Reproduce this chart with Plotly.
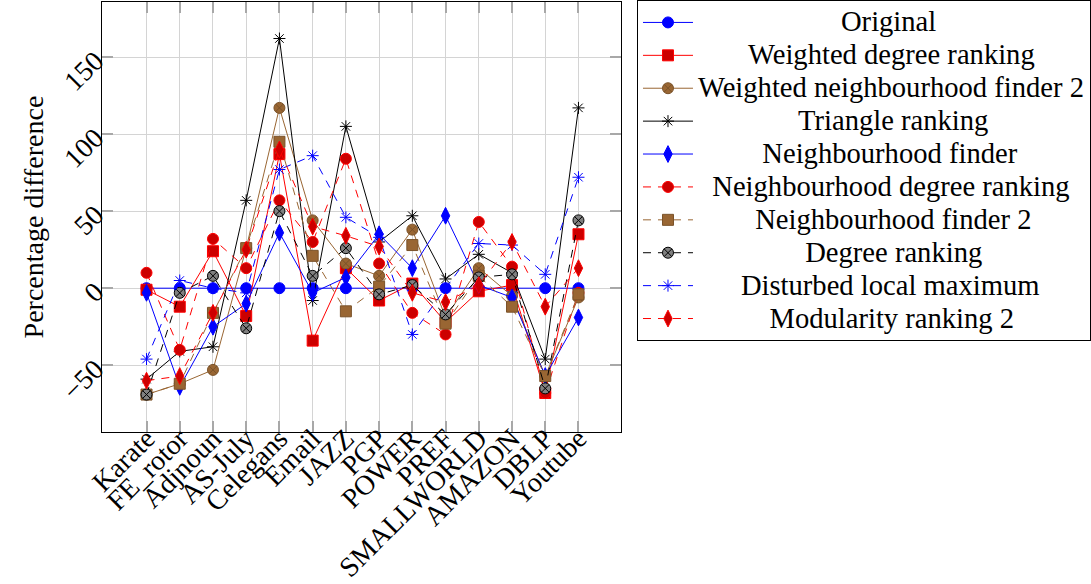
import plotly.graph_objects as go

categories = ["Karate", "FE_rotor", "Adjnoun", "AS-July", "Celegans", "Email", "JAZZ",
              "PGP", "POWER", "PREF", "SMALLWORLD", "AMAZON", "DBLP", "Youtube"]

original = [0, 0, 0, 0, 0, 0, 0, 0, 0, 0, 0, 0, 0, 0]
weighted_degree_ranking = [-1, -12, 24, -18, 87, -34, 13, -8, 3, -22, -2, 2, -68, 35]
weighted_neighbourhood_finder_2 = [-69, -62, -53, 26, 117, 44, 16, 8, 38, -19, 13, -5, -57, -6]
triangle_ranking = [-59, -41, -38, 57, 162, -8, 105, 30, 47, 6, 22, 10, -46, 117]
neighbourhood_finder = [-3, -64, -25, -10, 36, -3, 7, 35, 13, 47, 2, -6, -57, -19]
neighbourhood_degree_ranking = [10, -40, 32, 13, 57, 30, 84, 16, -16, -30, 43, 14, -68, -3]
neighbourhood_finder_2 = [-69, -62, -16, 26, 95, 21, -15, 1, 28, -23, 8, -12, -57, -4]
degree_ranking = [-69, -3, 8, -26, 50, 8, 26, -4, 2, -17, 7, 9, -65, 44]
disturbed_local_maximum = [-46, 5, 0, -3, 77, 86, 46, 33, -30, 0, 29, 28, 9, 72]
modularity_ranking_2 = [-60, -57, -16, 25, 90, 40, 34, 27, -3, -9, 2, 30, -12, 13]

y_ticks = [-50, 0, 50, 100, 150]

BLUE = "#0000ff"
RED = "#ff0000"
DRED = "#cc0000"
BROWN = "#996633"
DBROWN = "#7a5229"
GRAY = "#808080"
BLACK = "#000000"
FONT = "Liberation Serif"
DASH = "8px,7px"

series = [
    ("Original", original, dict(symbol="circle", size=11, color=BLUE, line=dict(color=BLUE, width=1)), dict(color=BLUE, width=1)),
    ("Weighted degree ranking", weighted_degree_ranking, dict(symbol="square", size=11, color=DRED, line=dict(color=RED, width=1)), dict(color=RED, width=1)),
    ("Weighted neighbourhood finder 2", weighted_neighbourhood_finder_2, dict(symbol="circle-x", size=11, color=BROWN, line=dict(color=DBROWN, width=1)), dict(color=BROWN, width=1)),
    ("Triangle ranking", triangle_ranking, dict(symbol="asterisk-open", size=10, color=BLACK, line=dict(color=BLACK, width=1)), dict(color=BLACK, width=1)),
    ("Neighbourhood finder", neighbourhood_finder, dict(symbol="diamond-tall", size=12, color=BLUE, line=dict(color=BLUE, width=1)), dict(color=BLUE, width=1)),
    ("Neighbourhood degree ranking", neighbourhood_degree_ranking, dict(symbol="circle", size=11, color=DRED, line=dict(color=RED, width=1)), dict(color=RED, width=1, dash=DASH)),
    ("Neighbourhood finder 2", neighbourhood_finder_2, dict(symbol="square", size=11, color=BROWN, line=dict(color=DBROWN, width=1)), dict(color=BROWN, width=1, dash=DASH)),
    ("Degree ranking", degree_ranking, dict(symbol="circle-x", size=11, color=GRAY, line=dict(color=BLACK, width=1)), dict(color=BLACK, width=1, dash=DASH)),
    ("Disturbed local maximum", disturbed_local_maximum, dict(symbol="asterisk-open", size=10, color=BLUE, line=dict(color=BLUE, width=1)), dict(color=BLUE, width=1, dash=DASH)),
    ("Modularity ranking 2", modularity_ranking_2, dict(symbol="diamond-tall", size=12, color=DRED, line=dict(color=RED, width=1)), dict(color=RED, width=1, dash=DASH)),
]

# approximate Times-like glyph widths (per 1000 em) to centre legend labels
W = {"a": 444, "b": 500, "c": 444, "d": 500, "e": 444, "f": 333, "g": 500, "h": 500, "i": 278,
     "k": 500, "l": 278, "m": 778, "n": 500, "o": 500, "r": 333, "s": 389, "t": 278, "u": 500,
     "x": 500, "y": 500, " ": 250, "2": 500, "O": 722, "W": 944, "T": 611, "N": 722, "D": 722, "M": 889}


def width(s):
    return sum(W.get(ch, 500) for ch in s)


maxw = max(width(s[0]) for s in series)
NB = "\u00a0"


def centred(name):
    pad = int(round((maxw - width(name)) / 2 / 250))
    return '<span style="font-size:28.6px">' + NB * pad + name + "</span>"


fig = go.Figure()
for name, vals, mk, ln in series:
    fig.add_trace(go.Scatter(x=categories, y=vals, mode="lines+markers", name=centred(name),
                             marker=mk, line=ln))

axis_common = dict(showline=True, linecolor=BLACK, linewidth=1, mirror="ticks",
                   showgrid=True, gridcolor="#d4d4d4", gridwidth=1,
                   ticks="inside", ticklen=11, tickwidth=2, tickcolor="#a8a8a8",
                   zeroline=False, tickfont=dict(family=FONT, size=28, color=BLACK))

fig.update_layout(
    width=1091, height=584,
    margin=dict(l=102, r=470, t=2, b=152, autoexpand=False),
    paper_bgcolor="white", plot_bgcolor="white",
    font=dict(family=FONT, size=28, color=BLACK),
    xaxis=dict(range=[-1.34, 14.28], tickangle=-45, ticklabelstandoff=-22,
               tickmode="array", tickvals=categories, ticktext=categories, **axis_common),
    yaxis=dict(range=[-93.3, 185.7], tickvals=y_ticks, tickangle=-45,
               title=dict(text="Percentage difference", font=dict(family=FONT, size=28), standoff=4),
               **axis_common),
    legend=dict(x=1.0308, xanchor="left", y=1.0047, yanchor="top",
                bordercolor=BLACK, borderwidth=1, bgcolor="white",
                font=dict(family=FONT, size=23, color=BLACK), itemwidth=50,
                tracegroupgap=0, maxheight=580),
    showlegend=True,
)

fig.write_html("out.html")
